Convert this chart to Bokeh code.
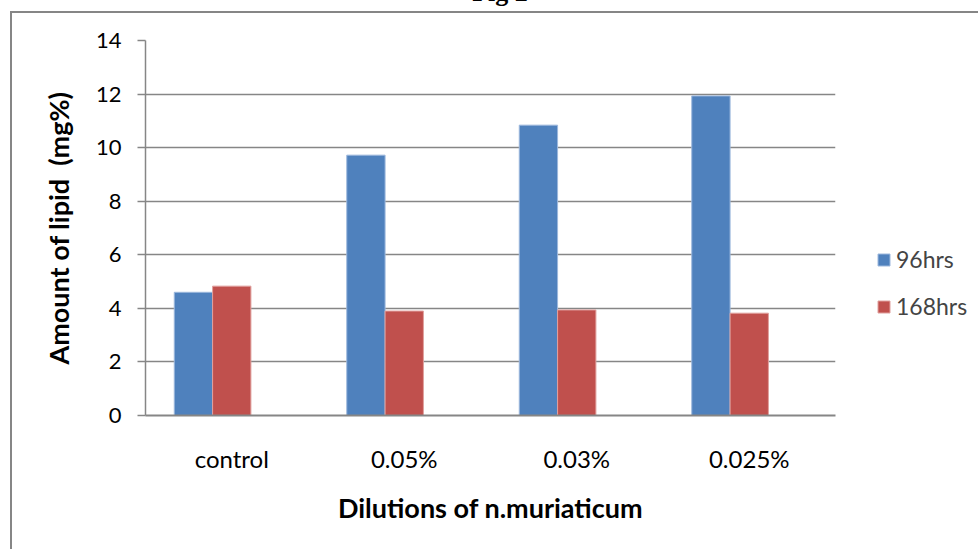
from bokeh.plotting import figure
from bokeh.models import Range1d, ColumnDataSource, Legend, LegendItem, FixedTicker, Div
from bokeh.layouts import column
from bokeh.embed import file_html
from bokeh.resources import INLINE

categories = ["control", "0.05%", "0.03%", "0.025%"]
hrs96 = [4.6, 9.72, 10.84, 11.93]
hrs168 = [4.83, 3.9, 3.94, 3.82]
y_ticks = [0, 2, 4, 6, 8, 10, 12, 14]

n_slots = 3          # clustered columns: 3 series slots, gap width 150%
gap = 1.5
bar_w = 1.0 / (n_slots + gap)

centers = [i + 0.5 for i in range(len(categories))]
src = ColumnDataSource(dict(
    x96=[c - bar_w for c in centers],
    x168=centers,
    v96=hrs96,
    v168=hrs168,
))

GRID = "#868686"
FONT = "Lato"

p = figure(width=968, height=538, frame_width=688, frame_height=373,
           min_border_left=133, min_border_top=27, min_border_right=147, min_border_bottom=136,
           output_backend="svg", toolbar_location=None,
           x_range=Range1d(0, len(categories)), y_range=Range1d(0, 14),
           margin=(0, 0, 0, 10))
p.styles = {"border-top": "2px solid #868686", "border-left": "2px solid #868686"}
p.outline_line_color = None
p.background_fill_color = "white"
p.border_fill_color = "white"

r1 = p.vbar(x="x96", top="v96", width=bar_w, source=src, fill_color="#4F81BD",
            line_color="#9db8dd", line_width=1)
r2 = p.vbar(x="x168", top="v168", width=bar_w, source=src, fill_color="#C0504D",
            line_color="#e0a09e", line_width=1)

# y axis
ya = p.yaxis[0]
ya.ticker = FixedTicker(ticks=y_ticks)
ya.axis_line_color = GRID
ya.axis_line_width = 1.5
ya.major_tick_line_color = GRID
ya.major_tick_line_width = 1.5
ya.major_tick_out = 8
ya.major_tick_in = 0
ya.minor_tick_line_color = None
ya.major_label_text_font = FONT
ya.major_label_text_font_size = "22px"
ya.major_label_text_color = "black"
ya.major_label_standoff = 16
ya.axis_label = "Amount of lipid \u00a0(mg%)"
ya.axis_label_text_font = FONT
ya.axis_label_text_font_style = "bold"
ya.axis_label_text_font_size = "27px"
ya.axis_label_text_color = "black"
ya.axis_label_standoff = 18

# x axis
xa = p.xaxis[0]
xa.ticker = FixedTicker(ticks=centers)
xa.major_label_overrides = {c: lab for c, lab in zip(centers, categories)}
xa.axis_line_color = GRID
xa.axis_line_width = 2
xa.major_tick_out = 0
xa.major_tick_in = 0
xa.minor_tick_line_color = None
xa.major_label_text_font = FONT
xa.major_label_text_font_size = "24px"
xa.major_label_text_color = "black"
xa.major_label_standoff = 28
xa.axis_label = "Dilutions of n.muriaticum"
xa.axis_label_text_font = FONT
xa.axis_label_text_font_style = "bold"
xa.axis_label_text_font_size = "27px"
xa.axis_label_text_color = "black"
xa.axis_label_standoff = 15

p.xgrid.grid_line_color = None
p.ygrid.ticker = FixedTicker(ticks=y_ticks)
p.ygrid.grid_line_color = GRID
p.ygrid.grid_line_width = 1.5

legend = Legend(items=[LegendItem(label="96hrs", renderers=[r1]),
                       LegendItem(label="168hrs", renderers=[r2])],
                location=(41, 95), orientation="vertical",
                glyph_width=15, glyph_height=15, label_standoff=5,
                label_height=28, spacing=19, padding=0, margin=0,
                border_line_color=None, background_fill_alpha=0,
                label_text_font=FONT, label_text_font_size="23px")
p.add_layout(legend, "right")

title = Div(text='<div style="position:relative; top:-20px; height:30px; line-height:26px; '
                 'font-family:\'Liberation Serif\'; font-weight:bold; font-size:26px; '
                 'text-align:center; width:1000px;">Fig 2</div>',
            width=978, height=11, styles={"overflow": "hidden"}, margin=0)

layout = column(title, p, margin=0, spacing=0)

open("out.html", "w").write(file_html(layout, INLINE))
